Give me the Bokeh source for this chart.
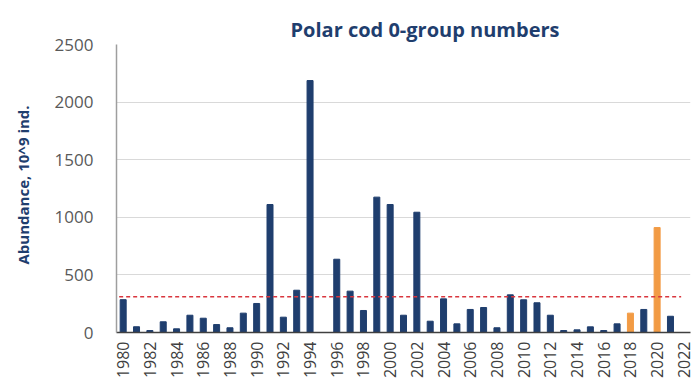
import math
from bokeh.plotting import figure
from bokeh.models import ColumnDataSource, Range1d, FixedTicker, Title
from bokeh.embed import file_html
from bokeh.resources import INLINE

# ---- data ----
years = list(range(1980, 2022))
abundance = [285, 50, 17, 93, 32, 150, 124, 69, 41, 168,
             252, 1111, 133, 367, 2187, 0, 636, 359, 191, 1175,
             1111, 150, 1044, 98, 292, 75, 200, 217, 41, 327,
             284, 258, 150, 17, 23, 49, 17, 75, 168, 200,
             911, 141]
highlight_years = [2018, 2020]
threshold = 310
tick_years = list(range(1980, 2023, 2))
y_ticks = [0, 500, 1000, 1500, 2000, 2500]

NAVY = "#1F3E6E"
ORANGE = "#F29B45"
colors = [ORANGE if y in highlight_years else NAVY for y in years]
src = ColumnDataSource(dict(x=years, top=abundance, color=colors))

p = figure(output_backend="svg", toolbar_location=None,
           frame_width=574, frame_height=288,
           min_border_left=116, min_border_top=44,
           min_border_right=6, min_border_bottom=51,
           x_range=Range1d(1979.5, 2022.5), y_range=Range1d(0, 2500))
p.outline_line_color = None
p.background_fill_color = "white"
p.border_fill_color = "white"

p.vbar(x="x", top="top", width=0.45, color="color", source=src)

p.segment(x0=[1980 - 0.3], x1=[2021.8], y0=[threshold], y1=[threshold],
          line_color="#D9363E", line_width=1.6, line_dash="4 3")

# title
p.title.text = "Polar cod 0-group numbers"
p.title.align = "left"
p.title.offset = 174
p.title.standoff = 3
p.title.text_font = "Open Sans"
p.title.text_font_style = "bold"
p.title.text_font_size = "20px"
p.title.text_color = "#1F3E6E"

# axes
p.xgrid.grid_line_color = None
p.ygrid.grid_line_color = "#D9D9D9"
p.ygrid.grid_line_width = 1

p.yaxis.ticker = FixedTicker(ticks=y_ticks)
p.yaxis.major_tick_out = 0
p.yaxis.major_tick_in = 0
p.yaxis.minor_tick_line_color = None
p.yaxis.major_label_standoff = 23
p.yaxis.major_label_text_font = "Open Sans"
p.yaxis.major_label_text_font_size = "17px"
p.yaxis.major_label_text_color = "#595959"
p.yaxis.axis_line_color = "#9E9E9E"
p.yaxis.axis_line_width = 1.5
# blank axis label used only as a spacer between tick labels and the y title
p.yaxis.axis_label = " "
p.yaxis.axis_label_standoff = 0
p.yaxis.axis_label_text_font_size = "10px"

# y label as a left-side title (allows shifting along the axis)
ylab = Title(text="Abundance, 10^9 ind.", align="left", offset=68,
             text_font="Open Sans", text_font_style="bold",
             text_font_size="15px", text_color="#1F3E6E")
p.add_layout(ylab, "left")

p.xaxis.ticker = FixedTicker(ticks=tick_years)
p.xaxis.major_label_orientation = math.pi / 2
p.xaxis.major_tick_out = 0
p.xaxis.major_tick_in = 0
p.xaxis.minor_tick_line_color = None
p.xaxis.major_label_standoff = 9
p.xaxis.major_label_text_font = "Open Sans"
p.xaxis.major_label_text_font_size = "16px"
p.xaxis.major_label_text_color = "#404040"
p.xaxis.axis_line_color = "#404040"
p.xaxis.axis_line_width = 1.5

open("out.html", "w").write(file_html(p, INLINE))
